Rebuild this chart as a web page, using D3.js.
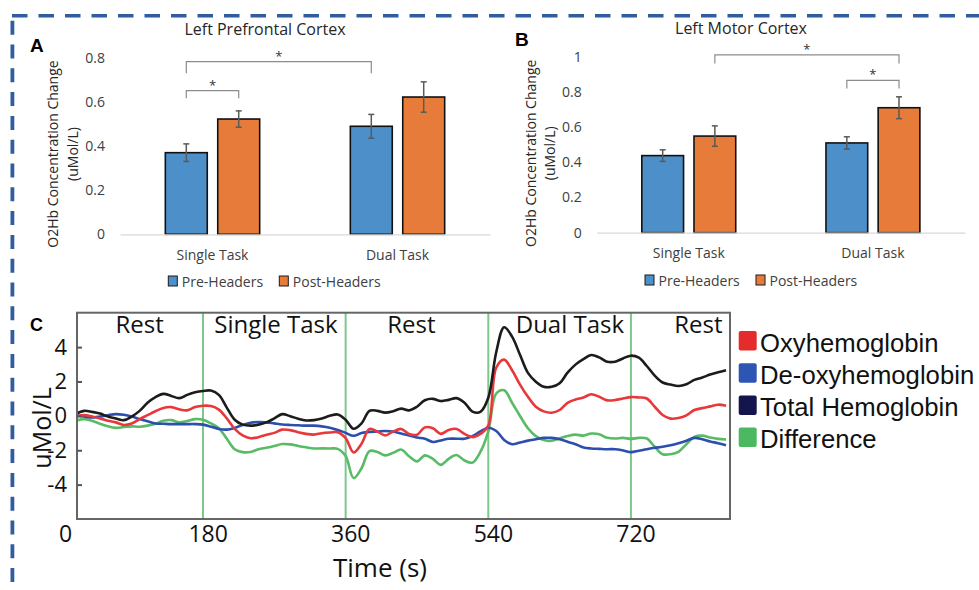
<!DOCTYPE html>
<html><head><meta charset="utf-8">
<script src="https://cdn.jsdelivr.net/npm/d3@7"></script>
<style>
body{margin:0;background:#fff;}
svg{display:block;font-family:"Open Sans",sans-serif;}
</style>
</head><body>
<svg id="fig" width="979" height="590"></svg>
<script>
// ---------------- DATA ----------------
const categories = ["Single Task", "Dual Task"];
const groups = ["Pre-Headers", "Post-Headers"];

// Panel A: Left Prefrontal Cortex
const pfcPre = [0.371, 0.491];
const pfcPost = [0.524, 0.624];
const pfcPreErr = [0.040, 0.054];
const pfcPostErr = [0.037, 0.069];
const pfcTicks = [0, 0.2, 0.4, 0.6, 0.8];
// brackets: [catIndex, groupIndex] endpoints, level of bar, level of feet
const pfcBrackets = [
  {a: [0, 0], b: [0, 1], top: 0.653, foot: 0.618},
  {a: [0, 0], b: [1, 0], top: 0.785, foot: 0.732}
];

// Panel B: Left Motor Cortex
const motorPre = [0.438, 0.510];
const motorPost = [0.549, 0.710];
const motorPreErr = [0.033, 0.035];
const motorPostErr = [0.058, 0.062];
const motorTicks = [0, 0.2, 0.4, 0.6, 0.8, 1];
const motorBrackets = [
  {a: [0, 1], b: [1, 1], top: 1.010, foot: 0.962},
  {a: [1, 0], b: [1, 1], top: 0.866, foot: 0.820}
];

// Panel C: time courses (uMol/L)
const timeS = [20,30,40,50,60,70,80,90,100,110,120,130,140,150,160,170,180,190,200,210,
  220,230,240,250,260,270,280,290,300,310,320,330,340,350,360,370,380,390,400,410,
  420,430,440,450,460,470,480,490,500,510,520,530,540,550,560,570,580,590,600,610,
  620,630,640,650,660,670,680,690,700,710,720,730,740,750,760,770,780,790,800,810,
  820,830,840];
const oxyHb = [-0.04,0.04,-0.04,-0.15,-0.29,-0.38,-0.53,-0.44,-0.19,0.04,0.27,0.46,0.51,0.38,0.32,0.51,0.59,0.57,0.36,-0.15,
  -0.76,-1.14,-1.30,-1.24,-1.10,-0.99,-0.80,-0.83,-0.95,-1.05,-1.09,-1.01,-0.97,-0.95,-1.30,-2.13,-1.62,-0.76,-0.91,-1.14,
  -0.91,-0.76,-1.05,-1.10,-0.67,-0.72,-1.05,-0.82,-0.76,-1.05,-1.24,-1.05,-0.57,2.80,3.27,2.65,1.82,1.11,0.53,0.26,
  0.18,0.34,0.76,0.95,1.07,1.26,1.11,0.90,0.92,1.01,1.09,1.07,1.01,0.53,0.05,-0.16,-0.13,0.03,0.34,0.45,
  0.55,0.65,0.59];
const deoxyHb = [0.04,-0.04,-0.10,-0.04,0.04,0.10,0.06,-0.04,-0.19,-0.32,-0.44,-0.46,-0.48,-0.48,-0.48,-0.48,-0.51,-0.63,-0.76,-0.80,
  -0.70,-0.53,-0.40,-0.36,-0.38,-0.44,-0.50,-0.53,-0.55,-0.57,-0.57,-0.61,-0.69,-0.82,-0.99,-1.16,-1.00,-0.93,-0.91,-0.88,
  -0.91,-1.03,-1.14,-1.26,-1.33,-1.52,-1.43,-1.33,-1.33,-1.33,-1.18,-0.91,-0.69,-0.88,-1.40,-1.65,-1.55,-1.44,-1.36,-1.28,
  -1.28,-1.36,-1.51,-1.65,-1.84,-1.90,-1.92,-1.94,-1.94,-2.01,-2.11,-2.03,-1.94,-1.86,-1.80,-1.71,-1.59,-1.45,-1.28,-1.36,
  -1.49,-1.59,-1.71];
const totalHb = [0.13,0.29,0.23,0.13,-0.04,-0.15,-0.25,-0.04,0.29,0.76,1.09,1.28,1.16,1.03,1.22,1.37,1.45,1.47,1.22,0.48,
  -0.23,-0.51,-0.57,-0.51,-0.38,-0.15,0.10,-0.02,-0.17,-0.27,-0.25,-0.15,0.00,0.08,-0.23,-0.75,-0.44,0.29,0.29,0.19,
  0.27,0.42,0.32,0.53,0.91,0.99,0.86,0.93,1.03,0.76,0.25,0.23,1.05,3.70,5.15,4.61,3.55,2.50,1.99,1.69,
  1.69,1.90,2.51,2.98,3.30,3.54,3.40,3.15,3.15,3.34,3.50,3.38,2.90,2.34,1.94,1.82,1.74,1.84,2.09,2.23,
  2.40,2.53,2.65];
const diffHb = [-0.27,-0.19,-0.29,-0.46,-0.61,-0.70,-0.65,-0.61,-0.63,-0.57,-0.46,-0.29,-0.25,-0.38,-0.30,-0.19,-0.23,-0.44,-0.72,-1.33,
  -1.94,-2.11,-2.10,-1.94,-1.85,-1.75,-1.64,-1.66,-1.75,-1.83,-1.90,-1.89,-1.90,-1.92,-2.34,-3.62,-3.05,-2.05,-2.10,-2.30,
  -2.15,-1.96,-2.35,-2.65,-2.30,-2.50,-2.85,-2.50,-2.28,-2.60,-2.72,-2.10,-0.90,1.30,1.49,0.76,-0.01,-0.72,-1.18,-1.40,
  -1.45,-1.30,-1.17,-1.09,-1.15,-1.03,-1.07,-1.28,-1.32,-1.28,-1.34,-1.28,-1.32,-1.80,-2.23,-2.23,-2.09,-1.65,-1.22,-1.15,
  -1.26,-1.34,-1.38];
const seriesNames = ["Oxyhemoglobin", "De-oxyhemoglobin", "Total Hemoglobin", "Difference"];
const phaseBounds = [180, 360, 540, 720];
const phaseNames = ["Rest", "Single Task", "Rest", "Dual Task", "Rest"];
const phaseLabelAt = [100, 272, 443, 643, 805];
const timeTicks = [0, 180, 360, 540, 720];
const concTicks = [-4, -2, 0, 2, 4];

// ---------------- DRAWING ----------------
const svg = d3.select("#fig");
const BLUE = "#4d8fc9", ORANGE = "#e77c3a";

// dashed frame
svg.append("line").attr("x1", 12).attr("x2", 979).attr("y1", 15.7).attr("y2", 15.7)
  .attr("stroke", "#2f5d9e").attr("stroke-width", 3.5).attr("stroke-dasharray", "15.5,11");
svg.append("line").attr("x1", 12.4).attr("x2", 12.4).attr("y1", 20.7).attr("y2", 590)
  .attr("stroke", "#2f5d9e").attr("stroke-width", 3.8).attr("stroke-dasharray", "14,9.8");

function barPanel(o) {
  const g = svg.append("g");
  const x0 = d3.scaleBand().domain(categories).range([o.x0, o.x1]);
  const y = d3.scaleLinear().domain([0, o.max]).range([o.yb, o.yt]);
  const half = x0.bandwidth() * 0.255;
  const x1 = d3.scaleBand().domain(groups).range([-half, half]).paddingInner(0.2);
  const center = (ci, gi) => x0(categories[ci]) + x0.bandwidth() / 2 + x1(groups[gi]) + x1.bandwidth() / 2;

  // title
  g.append("text").attr("x", o.titleX).attr("y", o.titleY).attr("text-anchor", "middle")
    .attr("font-size", 16).attr("fill", "#262626").text(o.title);
  // panel letter
  g.append("text").attr("x", o.letterX).attr("y", o.letterY).attr("font-family", "'Liberation Sans', Arial, sans-serif")
    .attr("font-weight", "bold").attr("font-size", 19).attr("fill", "#000").text(o.letter);

  // y axis labels
  const ya = g.append("g").attr("transform", `translate(${o.yLabX},0)`)
    .call(d3.axisLeft(y).tickValues(o.ticks).tickSize(0).tickPadding(0).tickFormat(d3.format("~g")));
  ya.select(".domain").remove();
  ya.selectAll("text").attr("font-size", 14).attr("fill", "#404040").attr("font-family", "'Open Sans',sans-serif");

  // y axis title (two lines)
  g.append("text").attr("transform", `translate(${o.t1x},${o.tcy}) rotate(-90)`).attr("text-anchor", "middle")
    .attr("font-size", 14).attr("fill", "#262626").text("O2Hb Concentration Change");
  g.append("text").attr("transform", `translate(${o.t2x},${o.tcy}) rotate(-90)`).attr("text-anchor", "middle")
    .attr("font-size", 14).attr("fill", "#262626").text("(uMol/L)");

  // bars
  const rows = [];
  categories.forEach((c, ci) => {
    [o.pre, o.post].forEach((arr, gi) => {
      rows.push({c, ci, gi, v: arr[ci], e: (gi === 0 ? o.preErr : o.postErr)[ci]});
    });
  });
  g.selectAll("rect.bar").data(rows).join("rect").attr("class", "bar")
    .attr("x", d => x0(d.c) + x0.bandwidth() / 2 + x1(groups[d.gi]))
    .attr("width", x1.bandwidth())
    .attr("y", d => y(d.v)).attr("height", d => y(0) - y(d.v))
    .attr("fill", d => d.gi === 0 ? BLUE : ORANGE)
    .attr("stroke", "#111").attr("stroke-width", 1.6);

  // x axis
  const xa = g.append("g").attr("transform", `translate(0,${o.yb})`)
    .call(d3.axisBottom(x0).tickSize(0).tickPadding(o.xPad));
  xa.select(".domain").attr("stroke", "#d9d9d9").attr("stroke-width", 1.2);
  xa.selectAll("text").attr("font-size", 14).attr("fill", "#404040").attr("font-family", "'Open Sans',sans-serif");

  // error bars
  const eb = g.selectAll("g.err").data(rows).join("g").attr("class", "err")
    .attr("stroke", "#5a5a5a").attr("stroke-width", 1.5);
  eb.append("line").attr("x1", d => center(d.ci, d.gi)).attr("x2", d => center(d.ci, d.gi))
    .attr("y1", d => y(d.v + d.e)).attr("y2", d => y(d.v - d.e));
  eb.append("line").attr("x1", d => center(d.ci, d.gi) - 3).attr("x2", d => center(d.ci, d.gi) + 3)
    .attr("y1", d => y(d.v + d.e)).attr("y2", d => y(d.v + d.e));
  eb.append("line").attr("x1", d => center(d.ci, d.gi) - 3).attr("x2", d => center(d.ci, d.gi) + 3)
    .attr("y1", d => y(d.v - d.e)).attr("y2", d => y(d.v - d.e));

  // significance brackets
  o.brackets.forEach(b => {
    const xa_ = center(b.a[0], b.a[1]), xb_ = center(b.b[0], b.b[1]);
    g.append("path").attr("fill", "none").attr("stroke", "#8c8c8c").attr("stroke-width", 1.2)
      .attr("d", `M${xa_},${y(b.foot)}V${y(b.top)}H${xb_}V${y(b.foot)}`);
    g.append("text").attr("x", (xa_ + xb_) / 2).attr("y", y(b.top) - 1).attr("text-anchor", "middle")
      .attr("font-size", 13).attr("fill", "#333").text("*");
  });

  // legend
  groups.forEach((name, i) => {
    g.append("rect").attr("x", o.legX[i]).attr("y", o.legY).attr("width", 9).attr("height", 10)
      .attr("fill", i === 0 ? BLUE : ORANGE).attr("stroke", "#1a1a1a").attr("stroke-width", 1);
    g.append("text").attr("x", o.legX[i] + 13.5).attr("y", o.legY + 10.5).attr("font-size", 14)
      .attr("fill", "#404040").text(name);
  });
}

barPanel({
  title: "Left Prefrontal Cortex", titleX: 265, titleY: 35, letter: "A", letterX: 30, letterY: 52,
  x0: 120, x1: 490, yb: 234.3, yt: 58.3, max: 0.8, ticks: pfcTicks, yLabX: 105,
  t1x: 58, t2x: 77.5, tcy: 154, xPad: 15.5,
  pre: pfcPre, post: pfcPost, preErr: pfcPreErr, postErr: pfcPostErr, brackets: pfcBrackets,
  legX: [168.3, 279.3], legY: 276
});
barPanel({
  title: "Left Motor Cortex", titleX: 741, titleY: 34, letter: "B", letterX: 515, letterY: 45.5,
  x0: 596.7, x1: 965, yb: 232.7, yt: 56.7, max: 1, ticks: motorTicks, yLabX: 581.7,
  t1x: 535.5, t2x: 555, tcy: 153.3, xPad: 15.5,
  pre: motorPre, post: motorPost, preErr: motorPreErr, postErr: motorPostErr, brackets: motorBrackets,
  legX: [645, 756], legY: 275
});

// ---------------- Panel C ----------------
const L = 77, R = 730, T = 312.7, B = 519;
const x = d3.scaleLinear().domain([21, 845]).range([L, R]);
const y = d3.scaleLinear().domain([-6, 6]).range([B, T]);
const gc = svg.append("g");

gc.append("text").attr("x", 30).attr("y", 330.5).attr("font-family", "'Liberation Sans', Arial, sans-serif")
  .attr("font-weight", "bold").attr("font-size", 18).text("C");

gc.append("clipPath").attr("id", "clipC").append("rect")
  .attr("x", L).attr("y", T).attr("width", R - L).attr("height", B - T);

// phase boundaries
gc.selectAll("line.phase").data(phaseBounds).join("line").attr("class", "phase")
  .attr("x1", d => x(d)).attr("x2", d => x(d)).attr("y1", T).attr("y2", B)
  .attr("stroke", "#7cc78a").attr("stroke-width", 2);

// phase labels
gc.selectAll("text.phase").data(phaseNames).join("text").attr("class", "phase")
  .attr("x", (d, i) => x(phaseLabelAt[i])).attr("y", 333).attr("text-anchor", "middle")
  .attr("font-size", 24).attr("fill", "#111").text(d => d);

// curves
const lineColors = ["#e8383a", "#2c4fae", "#1c1c1c", "#58bb66"];
const seriesVals = [oxyHb, deoxyHb, totalHb, diffHb];
const drawOrder = [3, 1, 0, 2];
const lineGen = d3.line().x(d => x(d[0])).y(d => y(d[1])).curve(d3.curveCatmullRom.alpha(0.5));
const cg = gc.append("g").attr("clip-path", "url(#clipC)");
drawOrder.forEach(si => {
  cg.append("path").datum(timeS.map((t, i) => [t, seriesVals[si][i]]))
    .attr("fill", "none").attr("stroke", lineColors[si]).attr("stroke-width", 2.6)
    .attr("stroke-linejoin", "round").attr("d", lineGen);
});

// frame
gc.append("rect").attr("x", L).attr("y", T).attr("width", R - L).attr("height", B - T)
  .attr("fill", "none").attr("stroke", "#666").attr("stroke-width", 2);

// y axis
const yAx = gc.append("g").attr("transform", `translate(${L},0)`)
  .call(d3.axisLeft(y).tickValues(concTicks).tickSizeInner(-5).tickSizeOuter(0).tickPadding(10).tickFormat(d => String(d)));
yAx.select(".domain").remove();
yAx.selectAll("line").attr("stroke", "#555").attr("stroke-width", 2);
yAx.selectAll("text").attr("font-size", 22).attr("fill", "#111").attr("font-family", "'Open Sans',sans-serif");

// x axis
const xAx = gc.append("g").attr("transform", `translate(0,${B})`)
  .call(d3.axisBottom(x).tickValues(timeTicks).tickSize(0).tickPadding(6.5));
xAx.select(".domain").remove();
xAx.selectAll("text").attr("font-size", 23).attr("fill", "#111").attr("dx", "0.2em").attr("font-family", "'Open Sans',sans-serif");

gc.append("text").attr("x", 380).attr("y", 577).attr("text-anchor", "middle").attr("font-size", 26)
  .attr("fill", "#111").text("Time (s)");
gc.append("text").attr("transform", "translate(51,428) rotate(-90)").attr("text-anchor", "middle")
  .attr("font-size", 25).attr("fill", "#111").text("uMol/L");

// legend C
const legColors = ["#e52b2b", "#2d55b3", "#15154d", "#4cb861"];
seriesNames.forEach((n, i) => {
  gc.append("rect").attr("x", 738.7).attr("y", 331 + i * 32.2).attr("width", 18).attr("height", 19.5)
    .attr("rx", 2).attr("fill", legColors[i]);
  gc.append("text").attr("x", 760).attr("y", 351.5 + i * 32.2).attr("font-size", 25.7)
    .attr("font-family", "'Liberation Sans', Arial, sans-serif").attr("fill", "#111").text(n);
});
</script>
</body></html>
